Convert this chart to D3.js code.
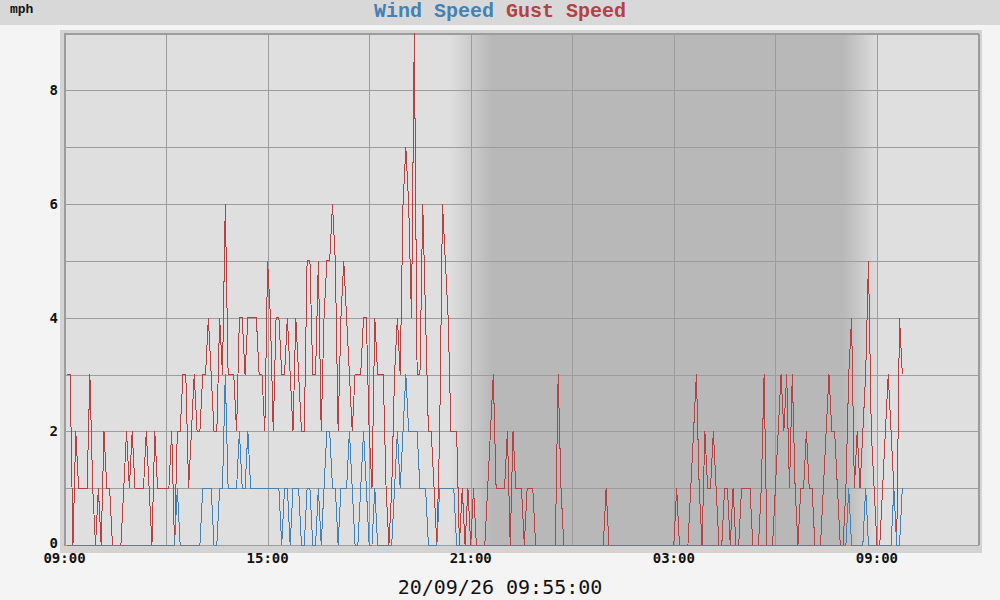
<!DOCTYPE html>
<html>
<head>
<meta charset="utf-8">
<script src="https://cdn.jsdelivr.net/npm/d3@7"></script>
<style>
  body { margin: 0; background: #f4f4f4; }
  svg { display: block; }
</style>
</head>
<body>
<div id="chart-area"></div>
<script>
// wind chart, 5 minute archive records 09:05 -> 09:55 next day

const START = new Date(2020, 8, 25, 9, 5)
const STEP_MIN = 5
const X_DOMAIN = [new Date(2020, 8, 25, 9, 0), new Date(2020, 8, 26, 12, 0)]

// night shading (start/end of dusk and dawn fades)
const DUSK = [new Date(2020, 8, 25, 20, 22), new Date(2020, 8, 25, 21, 37)]
const DAWN = [new Date(2020, 8, 26, 8, 0), new Date(2020, 8, 26, 9, 5)]

const gustSpeed = [
  3,3,0,2,1,1,1,1,3,1, 0,1,0,2,1,1,0,0,0,0, 1,2,1,2,1,1,1,1,2,1, 0,2,1,1,1,1,1,
  2,0,2,2,3,3,1,2,3,2, 2,3,3,4,3,2,2,4,3,6, 3,3,3,2,4,4,3,4,4,4, 4,3,3,2,5,4,
  2,4,4,3,3,4,3,2,4,3, 2,2,5,5,3,3,5,2,4,5, 5,6,5,2,4,5,4,3,2,3, 3,3,4,4,2,1,
  4,3,3,3,1,0,1,3,4,3, 6,7,6,4,9,3,3,6,4,2, 2,1,0,2,6,5,4,2,2,2, 0,1,0,1,0,1,0,
  0,0,0,1,2,3,1,1,1,1, 2,0,2,1,1,1,0,1,1,1, 0,0,0,0,0,0,0,0,3,1, 0,0,0,0,0,0,0,0,
  0,0,0,0,0,0,0,1,0,0, 0,0,0,0,0,0,0,0,0,0, 0,0,0,0,0,0,0,0,0,0, 0,0,1,0,0,
  0,0,1,2,3,1,0,2,1,1, 2,1,0,0,1,1,0,1,0,0, 1,1,1,1,0,0,0,1,3,0, 0,0,1,2,3,2,3,1,
  3,1,0,1,1,2,1,1,0,0, 0,1,2,3,2,2,1,0,0,1, 3,4,1,2,1,2,3,5,2,1, 0,0,1,2,3,2,1,0,4,3
]

const windSpeed = [
  0,0,0,0,0,0,0,0,0,0, 0,0,0,0,0,0,0,0,0,0, 0,0,0,0,0,0,0,0,0,0, 0,0,0,0,0,0,0,
  0,0,1,0,0,0,0,0,0,0, 0,1,1,1,1,0,0,1,1,3, 1,1,1,1,2,1,1,2,1,1, 1,1,1,1,1,1,
  1,1,1,0,1,1,0,1,1,1, 0,0,1,1,0,0,1,0,1,2, 2,1,1,0,1,1,1,2,1,0, 0,1,2,1,0,0,
  1,0,0,0,0,0,0,1,2,1, 2,3,2,2,2,2,1,1,1,0, 0,0,0,1,1,1,1,1,1,0, 0,0,0,0,0,0,0,
  0,0,0,0,0,0,0,0,0,0, 0,0,0,0,0,0,0,0,0,0, 0,0,0,0,0,0,0,0,0,0, 0,0,0,0,0,0,0,0,
  0,0,0,0,0,0,0,0,0,0, 0,0,0,0,0,0,0,0,0,0, 0,0,0,0,0,0,0,0,0,0, 0,0,0,0,0,
  0,0,0,0,0,0,0,0,0,0, 0,0,0,0,0,0,0,0,0,0, 0,0,0,0,0,0,0,0,0,0, 0,0,0,0,0,0,0,0,
  0,0,0,0,0,0,0,0,0,0, 0,0,0,0,0,0,0,0,0,0, 1,0,0,0,0,0,1,0,0,0, 0,0,0,0,0,0,1,0,0,1
]

const seriesNames = ["Wind Speed", "Gust Speed"]
const seriesColors = ["#4282b4", "#b44242"]
const yTickLabels = [0, 2, 4, 6, 8]
const stampText = "20/09/26 09:55:00"
const unitText = "mph"

const W = 1000, H = 600
const PLOT = { LEFT: 64.5, RIGHT: 978.5, TOP: 33.5, BOTTOM: 545 }

const svg = d3.select("#chart-area").append("svg")
  .attr("width", W)
  .attr("height", H)

svg.append("rect").attr("width", W).attr("height", H).attr("fill", "#f4f4f4")

// title band
svg.append("rect").attr("width", W).attr("height", 25).attr("fill", "#d8d8d8")

// frame round the plot
svg.append("rect")
  .attr("x", 60).attr("y", 30)
  .attr("width", 922).attr("height", 523)
  .attr("fill", "#d3d3d3")

const x = d3.scaleTime()
  .domain(X_DOMAIN)
  .range([PLOT.LEFT, PLOT.RIGHT])

const y = d3.scaleLinear()
  .domain([0, 9])
  .range([PLOT.BOTTOM, PLOT.TOP])

const times = gustSpeed.map((d, i) => new Date(START.getTime() + i * STEP_MIN * 60000))

// plot background
svg.append("rect")
  .attr("x", PLOT.LEFT).attr("y", PLOT.TOP)
  .attr("width", PLOT.RIGHT - PLOT.LEFT).attr("height", PLOT.BOTTOM - PLOT.TOP)
  .attr("fill", "#dfdfdf")

// night shading with soft edges
const defs = svg.append("defs")
const grad = defs.append("linearGradient")
  .attr("id", "night")
  .attr("gradientUnits", "userSpaceOnUse")
  .attr("x1", x(DUSK[0])).attr("x2", x(DAWN[1]))
  .attr("y1", 0).attr("y2", 0)
const span = x(DAWN[1]) - x(DUSK[0])
const stops = [
  [DUSK[0], 0], [DUSK[1], 1], [DAWN[0], 1], [DAWN[1], 0]
]
stops.forEach(([t, o]) => {
  grad.append("stop")
    .attr("offset", (x(t) - x(DUSK[0])) / span)
    .attr("stop-color", "#b8b8b8")
    .attr("stop-opacity", o)
})
svg.append("rect")
  .attr("x", x(DUSK[0])).attr("y", PLOT.TOP)
  .attr("width", span).attr("height", PLOT.BOTTOM - PLOT.TOP)
  .attr("fill", "url(#night)")

// grid
const grid = svg.append("g").attr("shape-rendering", "crispEdges")
  .attr("stroke", "#9c9c9c").attr("stroke-width", 1)

const xGrid = x.ticks(d3.timeHour.every(3))
grid.selectAll(".vgrid").data(xGrid).enter().append("line")
  .attr("class", "vgrid")
  .attr("x1", d => Math.round(x(d)) + 0.5).attr("x2", d => Math.round(x(d)) + 0.5)
  .attr("y1", PLOT.TOP).attr("y2", PLOT.BOTTOM)

grid.selectAll(".hgrid").data(d3.range(1, 10)).enter().append("line")
  .attr("class", "hgrid")
  .attr("x1", PLOT.LEFT).attr("x2", PLOT.RIGHT)
  .attr("y1", d => Math.round(y(d)) + 0.5).attr("y2", d => Math.round(y(d)) + 0.5)

// plot border
svg.append("rect")
  .attr("x", PLOT.LEFT).attr("y", PLOT.TOP)
  .attr("width", PLOT.RIGHT - PLOT.LEFT).attr("height", PLOT.BOTTOM - PLOT.TOP)
  .attr("fill", "none").attr("stroke", "#9c9c9c")
  .attr("shape-rendering", "crispEdges")

// lines
const line = d3.line()
  .x((d, i) => x(times[i]))
  .y(d => y(d))

svg.append("path")
  .datum(gustSpeed)
  .attr("fill", "none")
  .attr("stroke", seriesColors[1])
  .attr("stroke-width", 1)
  .attr("shape-rendering", "crispEdges")
  .attr("d", line)

svg.append("path")
  .datum(windSpeed)
  .attr("fill", "none")
  .attr("stroke", seriesColors[0])
  .attr("stroke-width", 1)
  .attr("shape-rendering", "crispEdges")
  .attr("d", line)

// x labels every 6 hours
const xLabels = xGrid.filter(d => (d.getHours() + 24 - 9) % 6 == 0 && d < X_DOMAIN[1])
svg.selectAll(".xlab").data(xLabels).enter().append("text")
  .attr("class", "xlab")
  .attr("x", d => x(d))
  .attr("y", 563)
  .attr("text-anchor", "middle")
  .attr("font-family", "DejaVu Sans Mono")
  .attr("font-weight", "bold")
  .attr("font-size", "14px")
  .attr("fill", "#111")
  .text(d3.timeFormat("%H:%M"))

// y labels
svg.selectAll(".ylab").data(yTickLabels).enter().append("text")
  .attr("class", "ylab")
  .attr("x", 58)
  .attr("y", d => y(d) + (d == 0 ? 3 : 5))
  .attr("text-anchor", "end")
  .attr("font-family", "DejaVu Sans Mono")
  .attr("font-weight", "bold")
  .attr("font-size", "14px")
  .attr("fill", "#111")
  .text(d => d)

// unit label
svg.append("text")
  .attr("x", 10).attr("y", 13)
  .attr("font-family", "Liberation Mono")
  .attr("font-weight", "bold")
  .attr("font-size", "13px")
  .attr("fill", "#111")
  .text(unitText)

// title
const title = svg.append("text")
  .attr("x", 500).attr("y", 17)
  .attr("text-anchor", "middle")
  .attr("font-family", "Liberation Mono")
  .attr("font-weight", "bold")
  .attr("font-size", "20px")
title.selectAll("tspan").data(seriesNames).enter().append("tspan")
  .attr("fill", (d, i) => seriesColors[i])
  .text((d, i) => (i ? " " : "") + d)

// time stamp
svg.append("text")
  .attr("x", 500).attr("y", 594)
  .attr("text-anchor", "middle")
  .attr("font-family", "DejaVu Sans Mono")
  .attr("font-size", "20px")
  .attr("fill", "#111")
  .text(stampText)
</script>
</body>
</html>
